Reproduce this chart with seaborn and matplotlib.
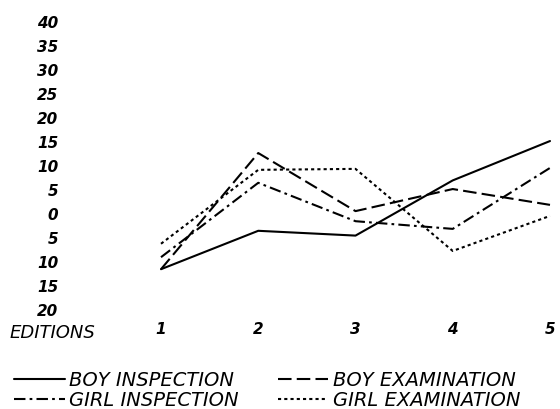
import matplotlib
matplotlib.use("Agg")
import matplotlib.pyplot as plt
import seaborn as sns
import pandas as pd

# Percentage change by edition for each group
editions = [1, 2, 3, 4, 5]
boy_inspection = [-11.5, -3.5, -4.5, 7.0, 15.2]
boy_examination = [-11.5, 12.7, 0.6, 5.2, 1.9]
girl_inspection = [-9.0, 6.5, -1.5, -3.1, 9.6]
girl_examination = [-6.2, 9.2, 9.4, -7.7, -0.4]

series_names = ["BOY INSPECTION", "BOY EXAMINATION", "GIRL INSPECTION", "GIRL EXAMINATION"]
y_ticks = [40, 35, 30, 25, 20, 15, 10, 5, 0, -5, -10, -15, -20]
y_tick_labels = [str(abs(v)) for v in y_ticks]
x_tick_labels = ["1", "2", "3", "4", "5"]

frames = []
for name, vals in zip(series_names,
                      [boy_inspection, boy_examination, girl_inspection, girl_examination]):
    frames.append(pd.DataFrame({"edition": editions, "change": vals, "series": name}))
df = pd.concat(frames, ignore_index=True)

sns.set_style("white")
plt.rcParams["font.family"] = ["DejaVu Sans"]
plt.rcParams["text.color"] = "black"
plt.rcParams["xtick.color"] = "black"
plt.rcParams["ytick.color"] = "black"

W, H = 560, 409
fig = plt.figure(figsize=(W / 100, H / 100), dpi=100)
# axes box in pixels: x 161..550, y 22..310 (from top)
ax = fig.add_axes([161 / W, (H - 310) / H, (550 - 161) / W, (310 - 22) / H])

dashes = {
    "BOY INSPECTION": "",
    "BOY EXAMINATION": (6.5, 2.5),
    "GIRL INSPECTION": (5.5, 2, 1.3, 2),
    "GIRL EXAMINATION": (1.5, 1.5),
}
sns.lineplot(data=df, x="edition", y="change", style="series", style_order=series_names,
             dashes=dashes, color="black", linewidth=1.5, ax=ax, legend=True)
for ln in ax.get_lines():
    ln.set_clip_on(False)

ax.set_xlim(1, 5)
ax.set_ylim(-20, 40)
for s in ax.spines.values():
    s.set_visible(False)

label_font = dict(fontstyle="italic", fontweight="bold", fontsize=11, color="black")
ax.set_yticks(y_ticks)
ax.set_yticklabels(y_tick_labels, **label_font)
ax.set_xticks(editions)
ax.set_xticklabels(x_tick_labels, **label_font)
ax.tick_params(axis="y", length=0, pad=74)
ax.tick_params(axis="x", length=0, pad=9)
for t in ax.get_yticklabels():
    t.set_horizontalalignment("right")
ax.set_xlabel("")
ax.set_ylabel("")

fig.text(10 / W, 1 - 333 / H, "EDITIONS", ha="left", va="center",
         fontstyle="italic", fontsize=13, color="black")

handles, labels = ax.get_legend_handles_labels()
ax.get_legend().remove()
lookup = dict(zip(labels, handles))
order = ["BOY INSPECTION", "GIRL INSPECTION", "BOY EXAMINATION", "GIRL EXAMINATION"]
fig.legend([lookup[k] for k in order], order, ncol=2, loc="upper left",
           bbox_to_anchor=(14 / W, 1 - 371 / H), frameon=False,
           prop=dict(style="italic", size=14), handlelength=2.6, handletextpad=0.25,
           columnspacing=2.0, labelspacing=0.05, borderaxespad=0, borderpad=0)

fig.savefig("out.png", dpi=100, facecolor="white")
